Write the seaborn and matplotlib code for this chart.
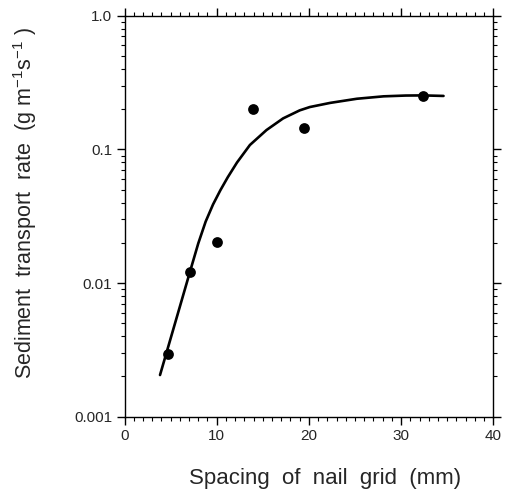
import matplotlib
matplotlib.use("Agg")
import matplotlib.pyplot as plt
import seaborn as sns
import pandas as pd
from matplotlib.ticker import MultipleLocator, LogLocator, FixedLocator, FixedFormatter, NullFormatter

# Measured data points
spacing_mm = [4.7, 7.1, 10.0, 13.9, 19.5, 32.4]
transport_rate = [0.00294, 0.0122, 0.0204, 0.1995, 0.145, 0.251]

# Fitted curve
curve_x = [3.85, 4.75, 6.0, 7.1, 8.0, 8.8, 9.6, 10.4, 11.2, 12.2, 13.6,
           15.4, 17.2, 19.0, 20.1, 22.3, 25.2, 28.1, 30.5, 32.4, 34.6]
curve_y = [0.002051, 0.003357, 0.006653, 0.01216, 0.01982, 0.02884, 0.03873,
           0.04955, 0.06194, 0.0798, 0.1079, 0.1396, 0.1706, 0.1959, 0.2075,
           0.2228, 0.2393, 0.2495, 0.2529, 0.2535, 0.2512]

y_ticks = [0.001, 0.01, 0.1, 1.0]
y_tick_labels = ["0.001", "0.01", "0.1", "1.0"]
x_ticks = [0, 10, 20, 30, 40]

sns.set_style("ticks")
plt.rcParams['font.family'] = ['Liberation Sans', 'DejaVu Sans']

fig = plt.figure(figsize=(5.07, 4.92), dpi=100)
ax = fig.add_axes([0.2456, 0.153, 0.7274, 0.815])

df_pts = pd.DataFrame({"x": spacing_mm, "y": transport_rate})
df_curve = pd.DataFrame({"x": curve_x, "y": curve_y})

sns.lineplot(data=df_curve, x="x", y="y", ax=ax, color="black", linewidth=1.9,
             sort=False, estimator=None)
sns.scatterplot(data=df_pts, x="x", y="y", ax=ax, color="black", s=60,
                edgecolor="black", linewidth=0, zorder=3)

ax.set_yscale("log")
ax.set_xlim(0, 40)
ax.set_ylim(0.001, 1.0)

ax.yaxis.set_major_locator(FixedLocator(y_ticks))
ax.yaxis.set_major_formatter(FixedFormatter(y_tick_labels))
ax.yaxis.set_minor_locator(LogLocator(base=10, subs=range(2, 10)))
ax.yaxis.set_minor_formatter(NullFormatter())
ax.xaxis.set_major_locator(FixedLocator(x_ticks))
ax.xaxis.set_minor_locator(MultipleLocator(1))

for s in ax.spines.values():
    s.set_visible(True)
    s.set_linewidth(1.0)
    s.set_color("black")

ax.tick_params(which="both", direction="out", top=True, right=True,
               labeltop=False, labelright=False, color="black")
ax.tick_params(which="major", length=6, width=1.0, labelsize=11, pad=3)
ax.tick_params(which="minor", length=3, width=0.8)

ax.set_xlabel("Spacing  of  nail  grid  (mm)", fontsize=16)
ax.set_ylabel("Sediment  transport  rate  (g m$^{\\mathregular{-1}}$s$^{\\mathregular{-1}}$ )",
              fontsize=15.5)
ax.xaxis.set_label_coords(0.544, -0.128)
ax.yaxis.set_label_coords(-0.232, 0.534)

fig.savefig("out.png", dpi=100)
